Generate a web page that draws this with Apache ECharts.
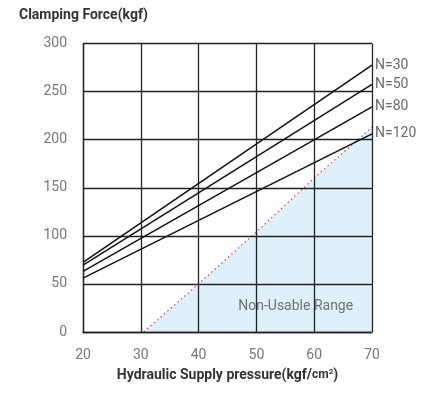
<!DOCTYPE html>
<html>
<head>
<meta charset="utf-8">
<script src="https://cdn.jsdelivr.net/npm/echarts@6/dist/echarts.min.js"></script>
<style>
  html, body { margin: 0; padding: 0; background: #fff; }
  #chart { width: 430px; height: 394px; }
</style>
</head>
<body>
<div id="chart"></div>
<script>
  // 数据
  var pressure = [20, 70];
  var lineNames = ['N=30', 'N=50', 'N=80', 'N=120'];
  var forceN30 = [72.5, 277.5];
  var forceN50 = [69.5, 257.5];
  var forceN80 = [63, 234];
  var forceN120 = [56, 206];
  var limitX = [30.5, 40, 50, 60, 70];
  var limitY = [0, 50, 104, 160, 213];
  var xTicks = [20, 30, 40, 50, 60, 70];
  var yTicks = [0, 50, 100, 150, 200, 250, 300];

  var font = "Roboto, sans-serif";

  function pairs(xs, ys) {
    var arr = [];
    for (var i = 0; i < xs.length; i++) {
      arr.push([xs[i], ys[i]]);
    }
    return arr;
  }

  var forces = [forceN30, forceN50, forceN80, forceN120];
  var series = [];

  // 不可用区域（红色点线 + 浅蓝填充）
  series.push({
    name: 'limit',
    type: 'line',
    z: 1,
    symbol: 'none',
    silent: true,
    data: pairs(limitX, limitY),
    lineStyle: { color: '#ff3344', width: 1.2, type: [1.5, 3] },
    areaStyle: { color: '#dff0fb', opacity: 1 },
    markPoint: {
      symbol: 'circle',
      symbolSize: 1,
      itemStyle: { color: 'rgba(0,0,0,0)' },
      data: [{ coord: [56.8, 26.5] }],
      label: {
        show: true,
        position: 'inside',
        formatter: 'Non-Usable Range',
        color: '#6d7278',
        fontSize: 14,
        fontFamily: font
      }
    }
  });

  for (var i in forces) {
    series.push({
      name: lineNames[i],
      type: 'line',
      z: 3,
      symbol: 'none',
      silent: true,
      data: pairs(pressure, forces[i]),
      lineStyle: { color: '#111', width: 1.5 },
      endLabel: {
        show: true,
        formatter: '{a}',
        color: '#6a6a6a',
        fontSize: 14,
        fontFamily: font,
        distance: 3
      }
    });
  }

  var myChart = echarts.init(document.getElementById('chart'));

  myChart.setOption({
    animation: false,
    backgroundColor: '#fff',
    title: {
      text: 'Clamping Force(kgf)',
      left: 14,
      top: 3,
      textStyle: { fontSize: 14, fontWeight: 'bold', color: '#333', fontFamily: font }
    },
    grid: { left: 83, right: 58, top: 43.5, bottom: 62 },
    xAxis: {
      type: 'value',
      min: xTicks[0],
      max: xTicks[xTicks.length - 1],
      interval: 10,
      z: 2,
      name: 'Hydraulic Supply pressure(kgf/{s|cm}{u|2}{p|)}',
      nameLocation: 'middle',
      nameGap: 36,
      nameTextStyle: {
        fontSize: 14, fontWeight: 'bold', color: '#333', fontFamily: font,
        rich: {
          s: { fontSize: 12, fontWeight: 'bold', color: '#333', fontFamily: font },
          u: { fontSize: 8, fontWeight: 'bold', color: '#333', fontFamily: font, verticalAlign: 'top', padding: [0, 0, 6, 0] },
          p: { fontSize: 14, fontWeight: 'bold', color: '#333', fontFamily: font }
        }
      },
      axisLine: { show: true, lineStyle: { color: '#222', width: 1.3 } },
      axisTick: { show: false },
      axisLabel: { color: '#777', fontSize: 14, margin: 16, fontFamily: font },
      splitLine: { show: true, lineStyle: { color: '#222', width: 1.3 } }
    },
    yAxis: {
      type: 'value',
      min: yTicks[0],
      max: yTicks[yTicks.length - 1],
      interval: 50,
      z: 2,
      axisLine: { show: true, lineStyle: { color: '#222', width: 1.3 } },
      axisTick: { show: false },
      axisLabel: { color: '#777', fontSize: 14, margin: 16, fontFamily: font },
      splitLine: { show: true, lineStyle: { color: '#222', width: 1.3 } }
    },
    series: series
  });
</script>
</body>
</html>
